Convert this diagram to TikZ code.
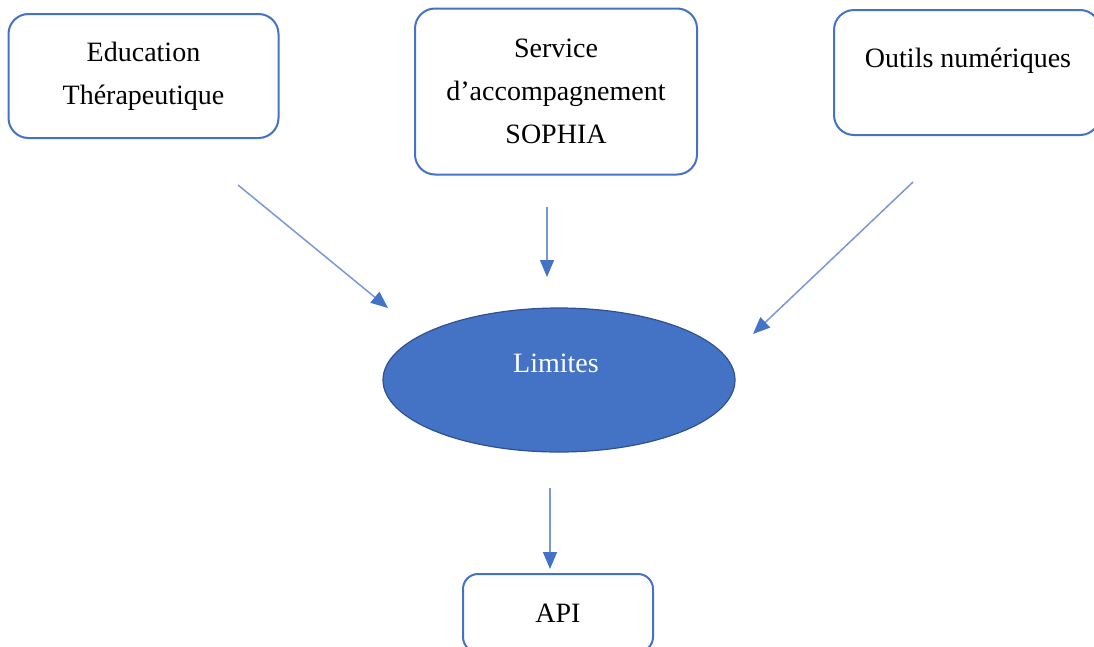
\documentclass[tikz,border=0pt]{standalone}
\usepackage{fontspec}
\setmainfont{Liberation Serif}
\usetikzlibrary{shapes.geometric, arrows.meta}
\definecolor{bleu}{RGB}{68,114,196}
\definecolor{bleufonce}{RGB}{47,82,143}
\definecolor{bleuclair}{RGB}{120,152,214}

\begin{document}
\begin{tikzpicture}[x=1pt, y=-1pt,
	cadre/.style={draw=bleu, line width=2pt, rounded corners=20pt, align=center, inner sep=0pt},
	texte/.style={align=center, inner sep=0pt},
	fleche/.style={draw=bleuclair, line width=1.5pt, -{Triangle[length=17pt, width=14pt, color=bleu, fill=bleu]}},
	font=\fontsize{28}{43}\selectfont]
				\useasboundingbox (0,0) rectangle (1094,646);
				\clip (0,0) rectangle (1094,646);
				
				% cadres
				\node [cadre, minimum width=270pt, minimum height=124pt] (educ) at (143.5,76) {Education\\Thérapeutique};
				\node [cadre, minimum width=282pt, minimum height=166pt] (sophia) at (556,91.5) {Service\\d’accompagnement\\SOPHIA};
				\node [cadre, minimum width=266pt, minimum height=125pt] (outils) at (967,72.5) {};
				\node [texte] (outilstxt) at (968,61) {Outils numériques};
				\node [ellipse, fill=bleu, draw=bleufonce, line width=1.2pt, inner sep=0pt, minimum width=352pt, minimum height=144pt] (limites) at (559,380) {};
				\node [texte, text=white] (limitestxt) at (556,363) {Limites};
				\node [cadre, rounded corners=15pt, minimum width=190pt, minimum height=78pt] (api) at (558,613) {API};
				
				% fleches
				\coordinate (e1) at (238,185);
				\coordinate (e2) at (388,308);
				\coordinate (s1) at (547,207);
				\coordinate (s2) at (547,277);
				\coordinate (o1) at (913,182);
				\coordinate (o2) at (753,334);
				\coordinate (l1) at (550,488);
				\coordinate (l2) at (550,569);
				\path [fleche] (e1) -- (e2);
				\path [fleche] (s1) -- (s2);
				\path [fleche] (o1) -- (o2);
				\path [fleche] (l1) -- (l2);
\end{tikzpicture}
\end{document}
